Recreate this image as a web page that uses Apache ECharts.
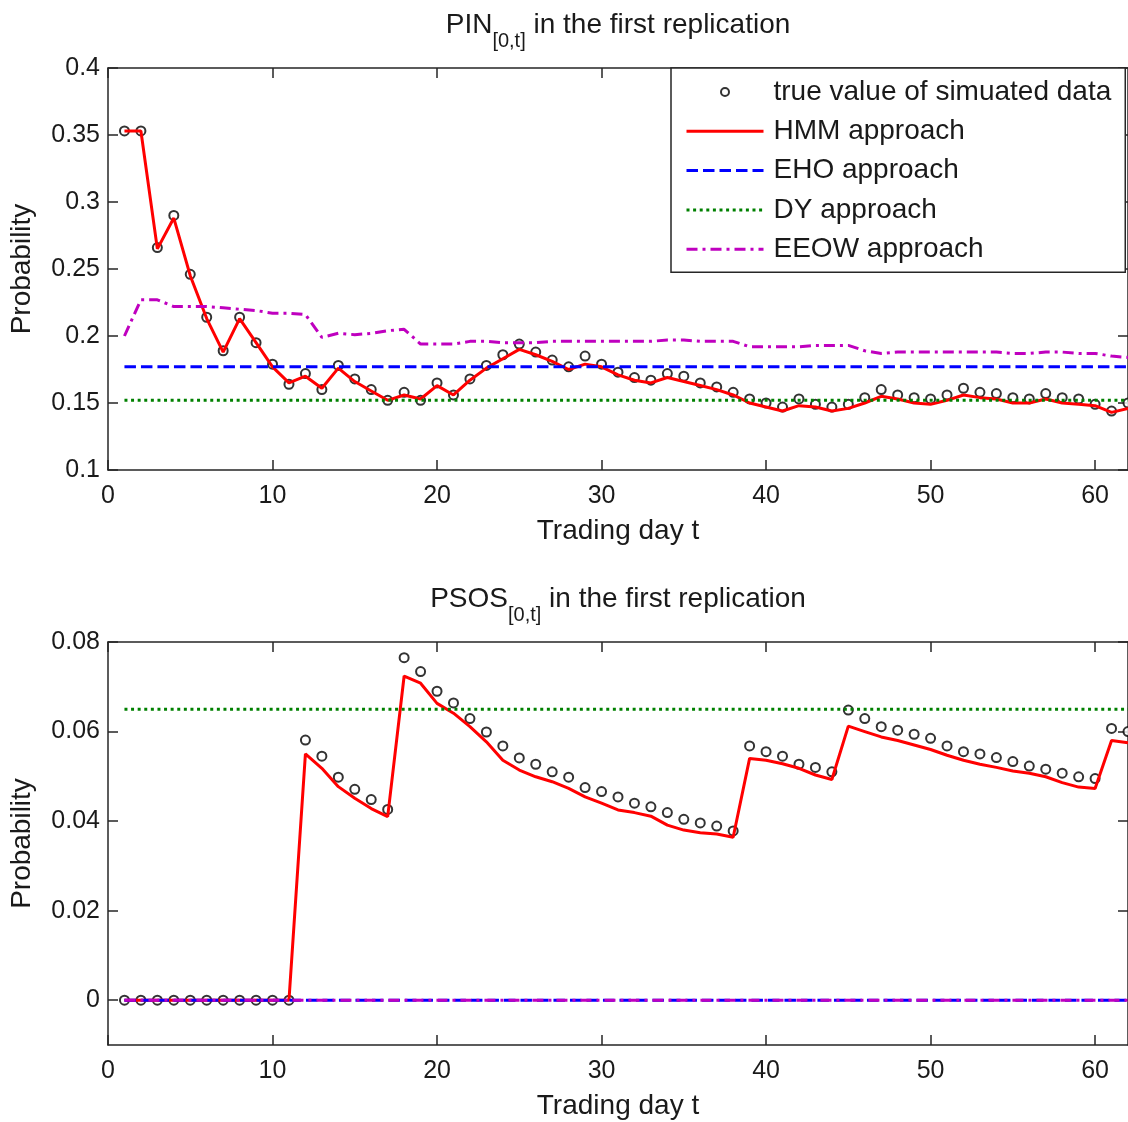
<!DOCTYPE html>
<html>
<head>
<meta charset="utf-8">
<script src="https://cdn.jsdelivr.net/npm/echarts@6/dist/echarts.min.js"></script>
<style>
  html, body { margin: 0; padding: 0; background: #fff; }
  #chart { width: 1128px; height: 1122px; }
</style>
</head>
<body>
<div id="chart"></div>
<script>
// trading days 1..62
var days = [1, 2, 3, 4, 5, 6, 7, 8, 9, 10, 11, 12, 13, 14, 15, 16, 17, 18, 19, 20,
  21, 22, 23, 24, 25, 26, 27, 28, 29, 30, 31, 32, 33, 34, 35, 36, 37, 38, 39, 40,
  41, 42, 43, 44, 45, 46, 47, 48, 49, 50, 51, 52, 53, 54, 55, 56, 57, 58, 59, 60, 61, 62];

// PIN panel
var truePin = [0.353, 0.353, 0.266, 0.290, 0.246, 0.214, 0.189, 0.214, 0.195, 0.179,
  0.164, 0.172, 0.160, 0.178, 0.168, 0.160, 0.152, 0.158, 0.152, 0.165,
  0.156, 0.168, 0.178, 0.186, 0.194, 0.188, 0.182, 0.177, 0.185, 0.179,
  0.173, 0.169, 0.167, 0.172, 0.170, 0.165, 0.162, 0.158, 0.153, 0.150,
  0.147, 0.153, 0.149, 0.147, 0.149, 0.154, 0.160, 0.156, 0.154, 0.153,
  0.156, 0.161, 0.158, 0.157, 0.154, 0.153, 0.157, 0.154, 0.153, 0.149, 0.144, 0.150];
var hmmPin = [0.353, 0.353, 0.265, 0.288, 0.245, 0.213, 0.188, 0.213, 0.195, 0.177,
  0.165, 0.170, 0.161, 0.176, 0.166, 0.159, 0.152, 0.156, 0.153, 0.163,
  0.156, 0.167, 0.176, 0.183, 0.190, 0.186, 0.181, 0.175, 0.179, 0.177,
  0.171, 0.167, 0.165, 0.169, 0.166, 0.163, 0.160, 0.156, 0.150, 0.147,
  0.144, 0.148, 0.147, 0.144, 0.146, 0.150, 0.155, 0.153, 0.150, 0.149,
  0.152, 0.156, 0.154, 0.153, 0.150, 0.150, 0.153, 0.150, 0.149, 0.148, 0.143, 0.146];
var ehoPin = 0.177;
var dyPin = 0.152;
var eeowPin = [0.200, 0.227, 0.227, 0.222, 0.222, 0.222, 0.221, 0.220, 0.219, 0.217,
  0.217, 0.216, 0.199, 0.202, 0.201, 0.202, 0.204, 0.205, 0.194, 0.194,
  0.194, 0.196, 0.196, 0.195, 0.195, 0.195, 0.196, 0.196, 0.196, 0.196,
  0.196, 0.196, 0.196, 0.197, 0.197, 0.196, 0.196, 0.196, 0.192, 0.192,
  0.192, 0.192, 0.193, 0.193, 0.193, 0.189, 0.187, 0.188, 0.188, 0.188,
  0.188, 0.188, 0.188, 0.188, 0.187, 0.187, 0.188, 0.188, 0.187, 0.187, 0.185, 0.184];

// PSOS panel
var truePsos = [0, 0, 0, 0, 0, 0, 0, 0, 0, 0,
  0, 0.0581, 0.0545, 0.0498, 0.0471, 0.0448, 0.0426, 0.0765, 0.0734, 0.0690,
  0.0664, 0.0629, 0.0599, 0.0568, 0.0541, 0.0527, 0.0510, 0.0498, 0.0475, 0.0466,
  0.0454, 0.0440, 0.0432, 0.0419, 0.0404, 0.0396, 0.0389, 0.0378, 0.0568, 0.0555,
  0.0545, 0.0527, 0.0520, 0.0510, 0.0648, 0.0629, 0.0611, 0.0603, 0.0594, 0.0585,
  0.0568, 0.0555, 0.0550, 0.0542, 0.0533, 0.0523, 0.0516, 0.0507, 0.0499, 0.0495, 0.0607, 0.0600];
var hmmPsos = [0, 0, 0, 0, 0, 0, 0, 0, 0, 0,
  0, 0.0550, 0.0518, 0.0477, 0.0451, 0.0428, 0.0410, 0.0724, 0.0708, 0.0663,
  0.0641, 0.0611, 0.0577, 0.0536, 0.0514, 0.0499, 0.0488, 0.0473, 0.0454, 0.0440,
  0.0425, 0.0419, 0.0411, 0.0391, 0.0380, 0.0374, 0.0371, 0.0364, 0.0540, 0.0536,
  0.0528, 0.0518, 0.0503, 0.0493, 0.0612, 0.0600, 0.0588, 0.0580, 0.0570, 0.0560,
  0.0547, 0.0536, 0.0527, 0.0520, 0.0512, 0.0507, 0.0499, 0.0486, 0.0476, 0.0473, 0.0580, 0.0575];
var ehoPsos = 0;
var dyPsos = 0.065;
var eeowPsos = 0;

// ticks
var xTicks = [0, 10, 20, 30, 40, 50, 60];
var pinTicks = [0.1, 0.15, 0.2, 0.25, 0.3, 0.35, 0.4];
var psosTicks = [0, 0.02, 0.04, 0.06, 0.08];

var names = ['true value of simuated data', 'HMM approach', 'EHO approach', 'DY approach', 'EEOW approach'];

var font = "'Liberation Sans', Arial, sans-serif";
var ink = '#262626';
var txt = '#1a1a1a';

function pairs(ys) {
  return days.map(function (d, i) { return [d, ys[i]]; });
}
function flat(v) {
  return [[days[0], v], [days[days.length - 1], v]];
}

var titleStyle = {
  color: txt,
  rich: {
    m: { fontSize: 28, lineHeight: 30, verticalAlign: 'top', fontFamily: font, color: txt },
    s: { fontSize: 20, lineHeight: 20, verticalAlign: 'top', padding: [20, 0, 0, 0], fontFamily: font, color: txt }
  }
};

function xAxisOf(grid, top, name) {
  return {
    type: 'value', gridIndex: grid, position: top ? 'top' : 'bottom',
    min: 0, max: 62,
    axisLine: { show: true, onZero: false, lineStyle: { color: ink, width: 1.5 } },
    axisTick: { show: true, inside: true, length: 10, customValues: xTicks, lineStyle: { color: ink, width: 1.5 } },
    axisLabel: { show: !top, customValues: xTicks, margin: 14, color: txt, fontSize: 25, fontFamily: font },
    splitLine: { show: false },
    name: name, nameLocation: 'middle', nameGap: top ? 27 : 47,
    nameTextStyle: top ? titleStyle : { fontSize: 28, color: txt, fontFamily: font }
  };
}

function yAxisOf(grid, right, min, max, ticks) {
  return {
    type: 'value', gridIndex: grid, position: right ? 'right' : 'left',
    min: min, max: max,
    axisLine: { show: true, onZero: false, lineStyle: { color: ink, width: 1.5 } },
    axisTick: { show: true, inside: true, length: 10, customValues: ticks, lineStyle: { color: ink, width: 1.5 } },
    axisLabel: { show: !right, customValues: ticks, margin: 8, color: txt, fontSize: 25, fontFamily: font },
    splitLine: { show: false },
    name: right ? '' : 'Probability', nameLocation: 'middle', nameGap: 72,
    nameTextStyle: { fontSize: 28, color: txt, fontFamily: font }
  };
}

function panelSeries(xi, yi, trueVals, hmmVals, ehoVal, dyVal, eeowData) {
  return [
    {
      name: names[0], type: 'scatter', xAxisIndex: xi, yAxisIndex: yi,
      data: pairs(trueVals), symbol: 'emptyCircle', symbolSize: 9,
      itemStyle: { color: '#000', borderWidth: 1.6 }
    },
    {
      name: names[1], type: 'line', xAxisIndex: xi, yAxisIndex: yi,
      data: pairs(hmmVals), symbol: 'none',
      lineStyle: { color: '#ff0000', width: 3 }, itemStyle: { color: '#ff0000' }
    },
    {
      name: names[2], type: 'line', xAxisIndex: xi, yAxisIndex: yi,
      data: flat(ehoVal), symbol: 'none',
      lineStyle: { color: '#0000ff', width: 3, type: [11.5, 5] }, itemStyle: { color: '#0000ff' }
    },
    {
      name: names[3], type: 'line', xAxisIndex: xi, yAxisIndex: yi,
      data: flat(dyVal), symbol: 'none',
      lineStyle: { color: '#008000', width: 3, type: [3, 3.6] }, itemStyle: { color: '#008000' }
    },
    {
      name: names[4], type: 'line', xAxisIndex: xi, yAxisIndex: yi,
      data: eeowData, symbol: 'none',
      lineStyle: { color: '#bf00bf', width: 3, type: [11, 5, 3, 5] }, itemStyle: { color: '#bf00bf' }
    }
  ];
}

// legend rows: no marker on the line entries
var hideMark = { opacity: 0 };
var legendData = [
  { name: names[0] },
  { name: names[1], itemStyle: hideMark, lineStyle: { width: 3 } },
  { name: names[2], itemStyle: hideMark, lineStyle: { width: 3 } },
  { name: names[3], itemStyle: hideMark, lineStyle: { width: 3 } },
  { name: names[4], itemStyle: hideMark, lineStyle: { width: 3 } }
];

var chart = echarts.init(document.getElementById('chart'));
var option = {
  animation: false,
  backgroundColor: '#fff',
  grid: [
    { left: 108, top: 68, width: 1020, height: 402 },
    { left: 108, top: 642, width: 1020, height: 403 }
  ],
  xAxis: [
    xAxisOf(0, false, 'Trading day t'),
    xAxisOf(0, true, '{m|PIN}{s|[0,t]}{m| in the first replication}'),
    xAxisOf(1, false, 'Trading day t'),
    xAxisOf(1, true, '{m|PSOS}{s|[0,t]}{m| in the first replication}')
  ],
  yAxis: [
    yAxisOf(0, false, 0.1, 0.4, pinTicks),
    yAxisOf(0, true, 0.1, 0.4, pinTicks),
    yAxisOf(1, false, -0.01, 0.08, psosTicks),
    yAxisOf(1, true, -0.01, 0.08, psosTicks)
  ],
  legend: {
    orient: 'vertical', left: 671, top: 68,
    padding: [10, 14, 9, 14],
    itemGap: 11.3, itemWidth: 77, itemHeight: 8,
    backgroundColor: '#fff', borderColor: ink, borderWidth: 1.5, borderRadius: 0,
    textStyle: { fontSize: 28, lineHeight: 28, color: txt, fontFamily: font, padding: [0, 0, 0, 5] },
    data: legendData
  },
  series: panelSeries(0, 0, truePin, hmmPin, ehoPin, dyPin, pairs(eeowPin))
    .concat(panelSeries(2, 2, truePsos, hmmPsos, ehoPsos, dyPsos, flat(eeowPsos)))
};
chart.setOption(option);
</script>
</body>
</html>
